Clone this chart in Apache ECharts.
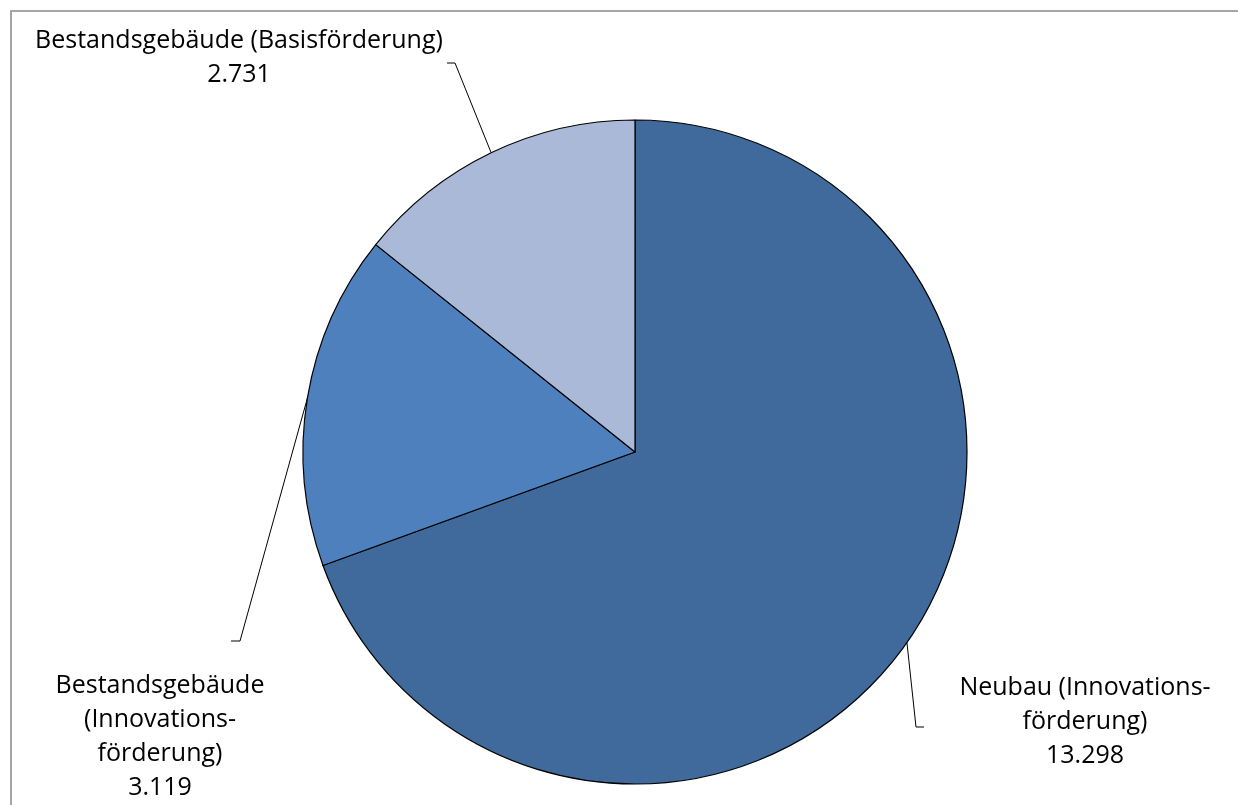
<!DOCTYPE html>
<html>
<head>
<meta charset="utf-8">
<script src="https://cdn.jsdelivr.net/npm/echarts@6/dist/echarts.min.js"></script>
<style>
  html, body { margin: 0; padding: 0; background: #fff; }
  #chart { width: 1238px; height: 805px; }
</style>
</head>
<body>
<div id="chart"></div>
<script>
// Förderfälle nach Programmteil
const categories = [
  'Neubau (Innovations-\nförderung)',
  'Bestandsgebäude\n(Innovations-\nförderung)',
  'Bestandsgebäude (Basisförderung)'
];
const values = [13298, 3119, 2731];
const colors = ['#3F6A9B', '#4E80BD', '#AAB9D7'];

// label anchor (centre of text block), elbow and end of the leader line relative to it
const labelPlace = [
  { x: 1085, y: 722, lineHeight: 34, elbow: [-169, 5], end: [-161, 5] },
  { x: 160,  y: 737, lineHeight: 34, elbow: [80, -96], end: [71, -96] },
  { x: 239,  y: 58,  lineHeight: 34, elbow: [216, 5], end: [208, 5] }
];

function formatDE(v) {
  return String(v).replace(/\B(?=(\d{3})+(?!\d))/g, '.');
}

const chart = echarts.init(document.getElementById('chart'), null, { renderer: 'canvas' });

chart.setOption({
  animation: false,
  backgroundColor: '#ffffff',
  textStyle: { fontFamily: 'Open Sans' },
  graphic: [{
    type: 'rect',
    shape: { x: 11, y: 11, width: 1400, height: 1000 },
    style: { fill: 'none', stroke: '#A6A6A6', lineWidth: 2 },
    silent: true
  }],
  series: [{
    type: 'pie',
    center: [635, 452],
    radius: 332,
    startAngle: 90,
    clockwise: true,
    avoidLabelOverlap: false,
    emphasis: { disabled: true },
    itemStyle: { borderColor: '#000', borderWidth: 1.2 },
    label: {
      show: true,
      position: 'outside',
      color: '#000',
      fontSize: 25,
      fontFamily: 'Open Sans',
      align: 'center',
      formatter: p => p.name + '\n' + formatDE(p.value)
    },
    labelLine: {
      show: true,
      lineStyle: { color: '#000', width: 1 }
    },
    labelLayout: function (params) {
      const p = labelPlace[params.dataIndex];
      const res = { x: p.x, y: p.y, align: 'center', verticalAlign: 'middle' };
      const pts = params.labelLinePoints;
      if (pts && pts.length) {
        res.labelLinePoints = [
          pts[0],
          [p.x + p.elbow[0], p.y + p.elbow[1]],
          [p.x + p.end[0], p.y + p.end[1]]
        ];
      }
      return res;
    },
    data: categories.map((name, i) => ({
      name: name,
      value: values[i],
      itemStyle: { color: colors[i] },
      label: { lineHeight: labelPlace[i].lineHeight }
    }))
  }]
});
</script>
</body>
</html>
